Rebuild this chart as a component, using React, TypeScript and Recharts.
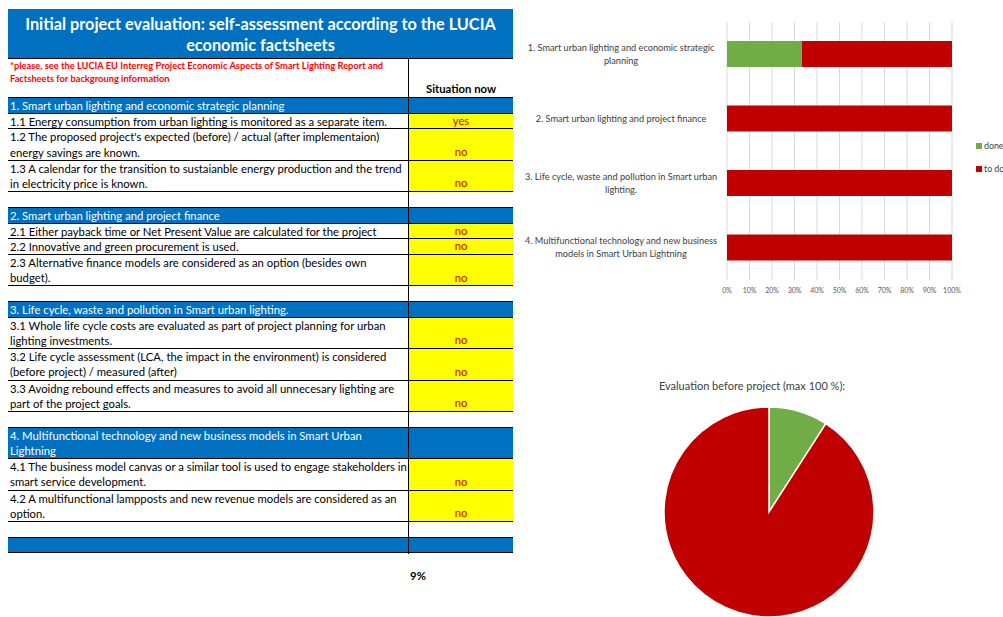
import { BarChart, Bar, XAxis, YAxis, CartesianGrid, Legend, PieChart, Pie, Cell } from "recharts";

const FONT = "Lato, 'Open Sans', sans-serif";

// bar chart: share of questions answered per chapter
const CATEGORIES = [
  "1. Smart urban lighting and economic strategic planning",
  "2. Smart urban lighting and project finance",
  "3. Life cycle, waste and pollution in Smart urban lighting.",
  "4. Multifunctional technology and new business models in Smart Urban Lightning",
];
const DONE = [33.3, 0, 0, 0];
const TO_DO = [66.7, 100, 100, 100];
const X_TICKS = [0, 10, 20, 30, 40, 50, 60, 70, 80, 90, 100];
const SERIES_NAMES = ["done", "to do"];

// pie: overall evaluation
const PIE_TITLE = "Evaluation before project (max 100 %):";
const PIE_VALUES = [9.1, 90.9];

// table
const TITLE_LINES = [
  "Initial project evaluation: self-assessment according to the LUCIA",
  "economic factsheets",
];
const NOTE_LINES = [
  "*please, see the LUCIA EU Interreg Project Economic Aspects of Smart Lighting Report and",
  "Factsheets for backgroung information",
];
const COLUMN_HEAD = "Situation now";
const SCORE = "9%";

type Row = { kind: "head" | "item" | "blank" | "foot"; text: string; answer?: string };

const ROWS: Row[] = [
  { kind: "head", text: "1. Smart urban lighting and economic strategic planning" },
  { kind: "item", text: "1.1 Energy consumption from urban lighting is monitored as a separate item.", answer: "yes" },
  { kind: "item", text: "1.2 The proposed project's expected (before) / actual (after implementaion)\nenergy savings are known.", answer: "no" },
  { kind: "item", text: "1.3 A calendar for the transition to sustaianble energy production and the trend\nin electricity price is known.", answer: "no" },
  { kind: "blank", text: "" },
  { kind: "head", text: "2. Smart urban lighting and project finance" },
  { kind: "item", text: "2.1 Either payback time or Net Present Value are calculated for the project", answer: "no" },
  { kind: "item", text: "2.2 Innovative and green procurement is used.", answer: "no" },
  { kind: "item", text: "2.3 Alternative finance models are considered as an option (besides own\nbudget).", answer: "no" },
  { kind: "blank", text: "" },
  { kind: "head", text: "3. Life cycle, waste and pollution in Smart urban lighting." },
  { kind: "item", text: "3.1 Whole life cycle costs are evaluated as part of project planning for urban\nlighting investments.", answer: "no" },
  { kind: "item", text: "3.2 Life cycle assessment (LCA, the impact in the environment) is considered\n(before project) / measured (after)", answer: "no" },
  { kind: "item", text: "3.3 Avoidng rebound effects and measures to avoid all unnecesary lighting are\npart of the project goals.", answer: "no" },
  { kind: "blank", text: "" },
  { kind: "head", text: "4. Multifunctional technology and new business models in Smart Urban\nLightning" },
  { kind: "item", text: "4.1 The business model canvas or a similar tool is used to engage stakeholders in\nsmart service development.", answer: "no" },
  { kind: "item", text: "4.2 A multifunctional lampposts and new revenue models are considered as an\noption.", answer: "no" },
  { kind: "blank", text: "" },
  { kind: "foot", text: "" },
];

const BLUE = "#0070C0";
const GREEN = "#70AD47";
const RED = "#C00000";
const LINE_H = 15.7;

function wrap(text: string, max: number) {
  const words = text.split(" ");
  const lines: string[] = [];
  let cur = "";
  for (const w of words) {
    const next = cur ? cur + " " + w : w;
    if (next.length > max && cur) {
      lines.push(cur);
      cur = w;
    } else cur = next;
  }
  if (cur) lines.push(cur);
  return lines;
}

function CategoryTick({ y, payload }: any) {
  const lines = wrap(payload.value, 49);
  const start = -((lines.length - 1) * 13) / 2;
  return (
    <text x={101} y={y} textAnchor="middle" fontSize={9.2} fill="#404040" fontFamily={FONT}>
      {lines.map((l, i) => (
        <tspan key={i} x={101} dy={i === 0 ? start + 3 : 13}>
          {l}
        </tspan>
      ))}
    </text>
  );
}

function LegendBox({ payload }: any) {
  return (
    <div style={{ fontFamily: FONT, fontSize: 8.8, color: "#404040" }}>
      {(payload || []).map((p: any) => (
        <div key={p.value} style={{ display: "flex", alignItems: "center", height: 23, whiteSpace: "nowrap" }}>
          <span style={{ width: 6, height: 6, background: p.color, marginRight: 2 }} />
          {p.value}
        </div>
      ))}
    </div>
  );
}

function Table() {
  let y = 97;
  const cells: JSX.Element[] = [];
  ROWS.forEach((r, i) => {
    const lines = r.text ? r.text.split("\n").length : 1;
    const h = lines * LINE_H;
    const blue = r.kind === "head" || r.kind === "foot";
    cells.push(
      <div
        key={"l" + i}
        style={{
          position: "absolute",
          left: 8,
          top: y,
          width: 400,
          height: h,
          background: blue ? BLUE : "transparent",
          color: blue ? "#fff" : "#000",
          borderTop: "1px solid #000",
          boxSizing: "border-box",
          padding: "0 2px",
          fontSize: 11.3,
          lineHeight: `${LINE_H - 0.4}px`,
          whiteSpace: "pre",
        }}
      >
        {r.text}
      </div>
    );
    cells.push(
      <div
        key={"r" + i}
        style={{
          position: "absolute",
          left: 409,
          top: y,
          width: 104,
          height: h,
          background: blue ? BLUE : r.answer ? "#FFFF00" : "transparent",
          borderTop: "1px solid #000",
          boxSizing: "border-box",
          display: "flex",
          alignItems: "flex-end",
          justifyContent: "center",
          fontSize: 11.3,
          color: "#D00000",
          lineHeight: `${LINE_H - 1}px`,
        }}
      >
        {r.answer}
      </div>
    );
    y += h;
  });
  return (
    <>
      <div
        style={{
          position: "absolute",
          left: 8,
          top: 9,
          width: 505,
          height: 49,
          background: BLUE,
          color: "#fff",
          fontWeight: 700,
          fontSize: 16.3,
          lineHeight: "21px",
          textAlign: "center",
          paddingTop: 4,
          boxSizing: "border-box",
        }}
      >
        {TITLE_LINES.map((l) => (
          <div key={l}>{l}</div>
        ))}
      </div>
      <div style={{ position: "absolute", left: 10, top: 59, color: "#FF0000", fontWeight: 700, fontSize: 9.3, lineHeight: "13px", whiteSpace: "nowrap" }}>
        {NOTE_LINES.map((l) => (
          <div key={l}>{l}</div>
        ))}
      </div>
      <div style={{ position: "absolute", left: 409, top: 82, width: 104, textAlign: "center", fontWeight: 700, fontSize: 11.3 }}>
        {COLUMN_HEAD}
      </div>
      <div style={{ position: "absolute", left: 8, top: 58, width: 505, borderTop: "1px solid #000" }} />
      {cells}
      <div style={{ position: "absolute", left: 8, top: y, width: 505, borderTop: "1px solid #000" }} />
      <div style={{ position: "absolute", left: 408, top: 58, height: y - 58 + 2, borderLeft: "1.5px solid #000" }} />
      <div style={{ position: "absolute", left: 408, top: 569, width: 20, textAlign: "center", fontWeight: 700, fontSize: 11.3 }}>
        {SCORE}
      </div>
    </>
  );
}

export default function App() {
  const barData = CATEGORIES.map((name, i) => ({ name, done: DONE[i], todo: TO_DO[i] }));
  const pieData = SERIES_NAMES.map((name, i) => ({ name, value: PIE_VALUES[i] }));

  return (
    <div
      style={{
        position: "absolute",
        left: 0,
        top: 0,
        width: 1003,
        height: 617,
        overflow: "hidden",
        background: "#fff",
        fontFamily: FONT,
      }}
    >
      <Table />

      <div style={{ position: "absolute", left: 520, top: 10 }}>
        <BarChart
          width={520}
          height={300}
          data={barData}
          layout="vertical"
          margin={{ top: 12, right: 88, bottom: 10, left: 0 }}
        >
          <CartesianGrid horizontal={false} stroke="#D9D9D9" />
          <XAxis
            type="number"
            domain={[0, 100]}
            ticks={X_TICKS}
            tickFormatter={(v) => `${v}%`}
            axisLine={false}
            tickLine={false}
            height={20}
            tick={{ fontSize: 7, fill: "#595959", fontFamily: FONT }}
            interval={0}
          />
          <YAxis type="category" dataKey="name" width={207} axisLine={false} tickLine={false} tick={<CategoryTick />} />
          <Legend
            layout="horizontal"
            align="center"
            verticalAlign="middle"
            wrapperStyle={{ left: 456, top: 124, width: 60 }}
            content={<LegendBox />}
          />
          <Bar dataKey="done" name={SERIES_NAMES[0]} stackId="a" fill={GREEN} barSize={26} isAnimationActive={false} />
          <Bar dataKey="todo" name={SERIES_NAMES[1]} stackId="a" fill={RED} barSize={26} isAnimationActive={false} />
        </BarChart>
      </div>

      <div
        style={{
          position: "absolute",
          left: 620,
          top: 379,
          width: 264,
          textAlign: "center",
          fontSize: 11,
          color: "#404040",
        }}
      >
        {PIE_TITLE}
      </div>
      <div style={{ position: "absolute", left: 620, top: 370 }}>
        <PieChart width={300} height={260}>
          <Pie
            data={pieData}
            dataKey="value"
            nameKey="name"
            cx={144}
            cy={137}
            outerRadius={105}
            startAngle={90}
            endAngle={-270}
            stroke="#fff"
            strokeWidth={1.5}
            isAnimationActive={false}
          >
            <Cell fill={GREEN} />
            <Cell fill={RED} />
          </Pie>
        </PieChart>
      </div>
    </div>
  );
}
